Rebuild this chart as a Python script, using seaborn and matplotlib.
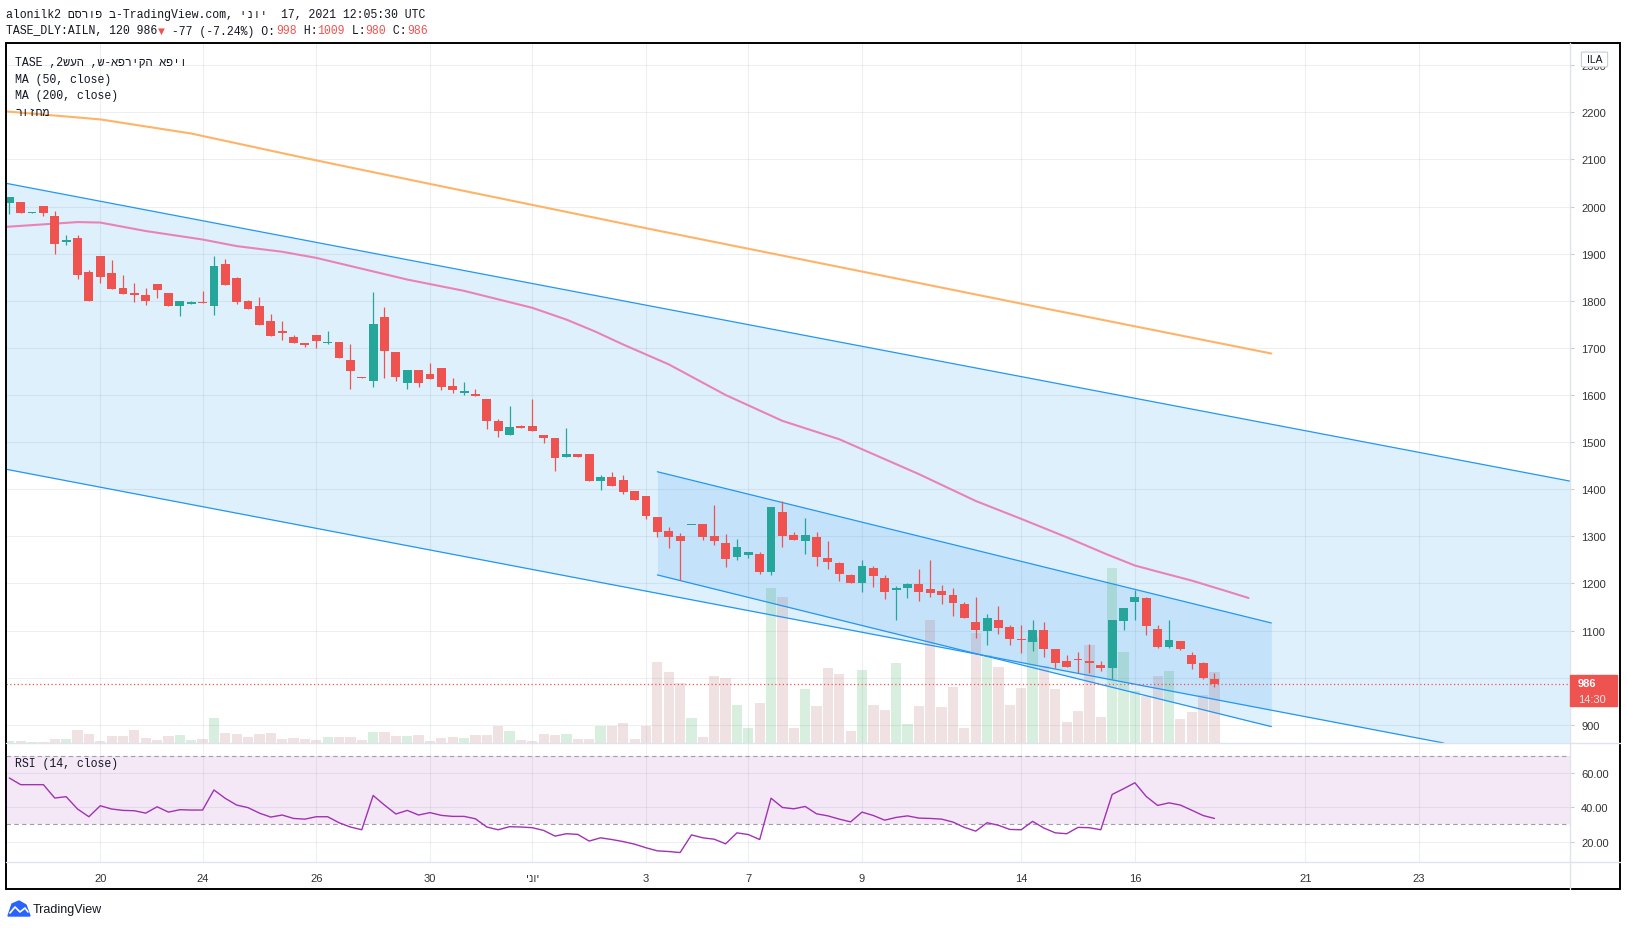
import matplotlib
matplotlib.use("Agg")
import numpy as np
import pandas as pd
import matplotlib.pyplot as plt
import seaborn as sns
from matplotlib.patches import Rectangle, FancyBboxPatch, Polygon

# ---- data: TASE_DLY:AILN, 120 min bars ----
bar_open = [2007, 2009, 1987, 2001, 1979, 1925, 1933, 1860, 1894, 1858,
            1828, 1816, 1813, 1835, 1816, 1789, 1793, 1797, 1789, 1879,
            1848, 1799, 1788, 1756, 1735, 1722, 1711, 1728, 1710, 1713,
            1675, 1639, 1629, 1765, 1692, 1625, 1654, 1645, 1658, 1618,
            1604, 1601, 1592, 1545, 1514, 1535, 1535, 1516, 1509, 1468,
            1475, 1475, 1418, 1426, 1419, 1396, 1385, 1341, 1311, 1301,
            1324, 1326, 1301, 1286, 1255, 1261, 1263, 1225, 1351, 1303,
            1291, 1299, 1254, 1244, 1218, 1200, 1233, 1212, 1185, 1191,
            1199, 1188, 1184, 1175, 1156, 1118, 1099, 1122, 1107, 1082,
            1076, 1101, 1060, 1035, 1040, 1035, 1027, 1021, 1121, 1161,
            1169, 1103, 1065, 1077, 1048, 1030, 998]
bar_high = [2020, 2009, 1988, 2001, 1990, 1939, 1939, 1865, 1894, 1886,
            1855, 1837, 1828, 1835, 1817, 1799, 1800, 1820, 1896, 1888,
            1850, 1801, 1807, 1771, 1758, 1728, 1711, 1728, 1735, 1713,
            1709, 1639, 1818, 1786, 1692, 1654, 1654, 1667, 1658, 1635,
            1628, 1613, 1592, 1548, 1577, 1537, 1592, 1516, 1509, 1530,
            1475, 1475, 1430, 1437, 1430, 1396, 1385, 1341, 1320, 1308,
            1325, 1326, 1366, 1305, 1294, 1267, 1267, 1362, 1375, 1309,
            1339, 1309, 1291, 1246, 1220, 1250, 1237, 1218, 1194, 1201,
            1231, 1250, 1197, 1190, 1160, 1171, 1135, 1152, 1111, 1111,
            1122, 1118, 1060, 1048, 1054, 1071, 1035, 1122, 1148, 1187,
            1171, 1111, 1122, 1077, 1054, 1033, 1009]
bar_low = [1984, 1987, 1986, 1980, 1899, 1918, 1846, 1799, 1838, 1825,
           1814, 1797, 1792, 1806, 1789, 1767, 1793, 1795, 1770, 1833,
           1793, 1782, 1748, 1725, 1716, 1710, 1701, 1699, 1708, 1678,
           1612, 1635, 1616, 1635, 1629, 1612, 1616, 1633, 1610, 1604,
           1599, 1597, 1528, 1510, 1514, 1529, 1523, 1499, 1438, 1468,
           1468, 1418, 1399, 1406, 1389, 1377, 1337, 1299, 1276, 1208,
           1324, 1293, 1282, 1234, 1249, 1253, 1221, 1217, 1278, 1293,
           1263, 1236, 1230, 1206, 1200, 1181, 1192, 1166, 1122, 1170,
           1162, 1172, 1156, 1130, 1126, 1084, 1069, 1093, 1070, 1052,
           1057, 1044, 1021, 1023, 1010, 1010, 1014, 997, 1101, 1123,
           1091, 1063, 1063, 1059, 1018, 997, 980]
bar_close = [2020, 1987, 1988, 1987, 1921, 1928, 1855, 1799, 1850, 1825,
             1814, 1812, 1799, 1823, 1789, 1799, 1798, 1795, 1873, 1833,
             1797, 1782, 1748, 1725, 1731, 1710, 1706, 1714, 1713, 1678,
             1650, 1635, 1750, 1693, 1638, 1654, 1625, 1633, 1616, 1610,
             1609, 1597, 1544, 1523, 1533, 1529, 1523, 1508, 1467, 1475,
             1468, 1418, 1426, 1406, 1394, 1377, 1344, 1310, 1299, 1289,
             1325, 1299, 1291, 1251, 1277, 1267, 1225, 1362, 1301, 1293,
             1303, 1257, 1246, 1221, 1200, 1237, 1215, 1181, 1191, 1199,
             1181, 1180, 1175, 1159, 1126, 1101, 1126, 1106, 1082, 1080,
             1101, 1061, 1031, 1023, 1038, 1031, 1021, 1122, 1148, 1171,
             1110, 1065, 1079, 1061, 1029, 999, 986]
volume = [6, 6, 3, 3, 12, 12, 39, 27, 6, 21,
          21, 39, 15, 9, 21, 24, 9, 12, 75, 30,
          27, 18, 27, 30, 12, 15, 12, 9, 18, 18,
          18, 9, 33, 33, 21, 21, 24, 6, 15, 18,
          15, 24, 24, 51, 36, 9, 6, 27, 24, 27,
          12, 12, 51, 51, 60, 12, 51, 243, 213, 180,
          75, 18, 201, 195, 114, 45, 120, 465, 438, 45,
          162, 111, 225, 207, 36, 219, 114, 99, 240, 57,
          111, 369, 108, 168, 45, 330, 264, 228, 114, 165,
          318, 231, 162, 63, 96, 294, 78, 525, 273, 156,
          141, 201, 216, 72, 93, 144, 213]
rsi = [57.1, 53.2, 53.2, 53.2, 45.4, 46.2, 39.0, 34.5, 40.9, 39.0,
       38.2, 38.0, 36.6, 40.3, 37.2, 38.6, 38.4, 38.4, 50.1, 45.2,
       41.3, 39.8, 36.6, 34.3, 35.5, 33.5, 33.1, 34.5, 34.5, 31.0,
       28.5, 26.9, 46.9, 41.3, 36.1, 38.2, 35.5, 36.9, 35.3, 34.7,
       34.7, 33.3, 28.5, 26.9, 28.7, 28.5, 28.1, 26.5, 23.2, 24.6,
       24.2, 20.3, 22.2, 21.2, 20.0, 18.5, 16.4, 14.6, 14.2, 13.6,
       23.9, 22.2, 21.4, 18.7, 25.1, 24.1, 21.2, 45.3, 39.9, 39.1,
       40.5, 36.2, 35.0, 33.1, 31.5, 37.2, 35.2, 32.5, 34.1, 35.0,
       33.7, 33.5, 33.1, 31.4, 28.3, 26.1, 31.0, 29.5, 27.1, 26.9,
       31.8, 27.9, 25.1, 24.6, 28.3, 28.1, 26.9, 47.5, 50.8, 54.3,
       46.3, 41.1, 42.6, 41.3, 38.3, 35.2, 33.5]
ma50_bar = [-0.2, 6, 8, 12, 17, 20, 24, 27, 35, 40, 46, 49, 51.5, 54, 58,
            63, 68, 73, 80, 85, 89, 93, 96.5, 99, 101, 104, 107, 109]
ma50_val = [1957, 1967, 1966, 1948, 1930, 1916, 1904, 1891, 1845, 1821, 1785,
            1760, 1735, 1707, 1665, 1600, 1545, 1506, 1432, 1375, 1337, 1298,
            1262, 1238, 1225, 1206, 1184, 1169]
ma200_bar = [-0.3, 8, 16, 26, 37, 56, 75, 90, 111]
ma200_val = [2202, 2185, 2155, 2103, 2048, 1954, 1862, 1789, 1688]
# parallel channels drawn on the chart: (bar, price) anchor points
big_upper = [(0, 2048), (137.3, 1417)]
big_width = 607
small_upper = [(57, 1437), (111, 1116)]
small_lower = [(57, 1218), (111, 896)]
last_price = 986
price_ticks = [900, 1000, 1100, 1200, 1300, 1400, 1500, 1600, 1700, 1800,
               1900, 2000, 2100, 2200, 2300]
rsi_ticks = [20, 40, 60]
date_bars = [8, 17, 27, 37, 46, 56, 65, 75, 89, 99, 114, 124]
date_labels = ['20', '24', '26', '30', 'יוני', '3', '7', '9', '14', '16', '21', '23']


def visual(s):
    # matplotlib has no bidi: flip each run of Hebrew letters
    out, run = [], []
    for ch in s:
        if '\u0590' <= ch <= '\u05ff':
            run.append(ch)
        else:
            out.extend(run[::-1]); run = []
            out.append(ch)
    out.extend(run[::-1])
    return ''.join(out)


W, H = 1627, 929
sns.set_style("white")
plt.rcParams['font.family'] = ['Liberation Sans', 'DejaVu Sans']
MONO = ['Liberation Mono', 'DejaVu Sans Mono', 'DejaVu Sans']
UP, DOWN = '#26a69a', '#ef5350'
GRID = (0.25, 0.35, 0.45, 0.09)
AXC = '#e0e3eb'
TXT = '#131722'

fig = plt.figure(figsize=(W / 100, H / 100), dpi=100)


def box(x0, y0, x1, y1):
    return [x0 / W, 1 - y1 / H, (x1 - x0) / W, (y1 - y0) / H]


X0, X1, TOP, MID, BOT = 6, 1570, 43.6, 744, 863
XLIM = (-0.29, 137.27)
ax_bg = fig.add_axes(box(X0, TOP, X1, MID))
ax_vol = fig.add_axes(box(X0, TOP, X1, MID), sharex=ax_bg)
ax = fig.add_axes(box(X0, TOP, X1, MID), sharex=ax_bg, sharey=ax_bg)
ax_rsi = fig.add_axes(box(X0, MID, X1, BOT), sharex=ax_bg)
for a in (ax_vol, ax):
    a.patch.set_alpha(0)

df = pd.DataFrame({'open': bar_open, 'high': bar_high, 'low': bar_low,
                   'close': bar_close, 'volume': volume, 'rsi': rsi})
df['bar'] = np.arange(len(df))
df['up'] = df['close'] >= df['open']

# background: channel fills and grid
ax_bg.set_xlim(*XLIM)
ax_bg.set_ylim(861.2, 2348)
slope = (big_upper[1][1] - big_upper[0][1]) / (big_upper[1][0] - big_upper[0][0])
xs = np.array(XLIM)
up_line = big_upper[0][1] + slope * (xs - big_upper[0][0])
ax_bg.fill_between(xs, up_line - big_width, up_line, color='#2196f3', alpha=0.14, lw=0, zorder=0.5)
ax_bg.fill_between([small_upper[0][0], small_upper[1][0]],
                   [small_lower[0][1], small_lower[1][1]],
                   [small_upper[0][1], small_upper[1][1]],
                   color='#2196f3', alpha=0.14, lw=0, zorder=0.6)
for p in price_ticks:
    ax_bg.axhline(p, color=GRID, lw=0.8, zorder=1)
for b in date_bars:
    ax_bg.axvline(b, color=GRID, lw=0.8, zorder=1)
ax_bg.yaxis.tick_right()
ax_bg.set_yticks(price_ticks)
ax_bg.tick_params(axis='y', length=3, width=0.8, color='#c8cbd3', pad=5,
                  labelsize=8, labelcolor='#333333')
ax_bg.tick_params(axis='x', bottom=False, labelbottom=False)

# volume
ax_vol.bar(df['bar'], df['volume'], width=0.9,
           color=np.where(df['up'], '#3caa5a', '#b46e73'), alpha=0.2, lw=0)
ax_vol.set_ylim(0, 2101)
ax_vol.axis('off')

# channel lines, moving averages, candles
ax.axline(big_upper[0], big_upper[1], color='#2196f3', lw=0.9)
ax.axline((big_upper[0][0], big_upper[0][1] - big_width),
          (big_upper[1][0], big_upper[1][1] - big_width), color='#2196f3', lw=0.9)
ax.plot([small_upper[0][0], small_upper[1][0]], [small_upper[0][1], small_upper[1][1]],
        color='#2196f3', lw=0.9)
ax.plot([small_lower[0][0], small_lower[1][0]], [small_lower[0][1], small_lower[1][1]],
        color='#2196f3', lw=0.9)
sns.lineplot(x=ma200_bar, y=ma200_val, ax=ax, color='#ffb366', lw=1.5)
sns.lineplot(x=ma50_bar, y=ma50_val, ax=ax, color='#e983b5', lw=1.5)
ccol = np.where(df['up'], UP, DOWN)
ax.vlines(df['bar'], df['low'], df['high'], colors=ccol, lw=0.9, zorder=3)
body_lo = np.minimum(df['open'], df['close'])
body_h = np.maximum((df['close'] - df['open']).abs(), 2.2)
ax.bar(df['bar'], body_h, bottom=body_lo, width=0.78, color=ccol, lw=0, zorder=4)
ax.axhline(last_price, color=DOWN, lw=0.9, ls=(0, (1, 2)), zorder=2)
ax.set_xlim(*XLIM)
ax.axis('off')

# RSI pane
ax_rsi.set_ylim(8.1, 77.5)
ax_rsi.axhspan(30, 70, color='#9c27b0', alpha=0.1, lw=0)
for v in (30, 70):
    ax_rsi.axhline(v, color='#a59bb0', lw=0.8, ls=(0, (4, 3)))
for v in rsi_ticks:
    ax_rsi.axhline(v, color=GRID, lw=0.8)
for b in date_bars:
    ax_rsi.axvline(b, color=GRID, lw=0.8)
sns.lineplot(data=df, x='bar', y='rsi', ax=ax_rsi, color='#a032b4', lw=1.0)
ax_rsi.yaxis.tick_right()
ax_rsi.set_yticks(rsi_ticks)
ax_rsi.set_yticklabels([f'{v:.2f}' for v in rsi_ticks])
ax_rsi.set_xticks(date_bars)
ax_rsi.set_xticklabels([visual(s) for s in date_labels])
ax_rsi.tick_params(axis='y', length=3, width=0.8, color='#c8cbd3', pad=5,
                   labelsize=8, labelcolor='#333333')
ax_rsi.tick_params(axis='x', length=0, pad=8, labelsize=8, labelcolor='#333333')
ax_rsi.set_xlabel('')
ax_rsi.set_ylabel('')
ax_rsi.set_xlim(*XLIM)
for a in (ax_bg, ax_rsi):
    for s in a.spines.values():
        s.set_visible(False)


# frame and separators (figure pixels)
def hline(y, x0, x1, c, lw):
    fig.add_artist(plt.Line2D([x0 / W, x1 / W], [1 - y / H, 1 - y / H], color=c, lw=lw))


def vline(x, y0, y1, c, lw):
    fig.add_artist(plt.Line2D([x / W, x / W], [1 - y0 / H, 1 - y1 / H], color=c, lw=lw))


hline(MID, X0, 1620, AXC, 1.0)
hline(BOT, X0, 1620, AXC, 1.0)
vline(X1, TOP, 890, AXC, 1.0)
fig.add_artist(Rectangle((X0 / W, 1 - 890 / H), (1620 - X0) / W, (890 - TOP) / H,
                         fill=False, ec='#000000', lw=1.4))

# price marker and currency tag on the price scale
fig.add_artist(Rectangle((X1 / W, 1 - 707 / H), 47 / W, 31 / H, color=DOWN, zorder=5))
fig.text(1578 / W, 1 - 684.5 / H, str(last_price), color='white', fontsize=8,
         fontweight='bold', va='center', zorder=6)
fig.text(1578 / W, 1 - 700 / H, '14:30', color='#fde2e2', fontsize=8, va='center', zorder=6)
fig.add_artist(FancyBboxPatch((1583 / W, 1 - 67 / H), 23 / W, 13 / H,
                              boxstyle='round,pad=0.001', fc='white', ec='#c8cbd3', lw=0.8, zorder=5))
fig.text(1594.5 / W, 1 - 60 / H, 'ILA', fontsize=7.5, color=TXT, ha='center', va='center', zorder=6)

# header lines (monospace, coloured runs)
FS = 8.3
CW = 0.6 * FS * 100 / 72


def runs(x, y, parts):
    n = 0
    for s, c in parts:
        fig.text((x + n * CW) / W, 1 - y / H, s, color=c, fontsize=FS, family=MONO, va='center')
        n += len(s)


runs(6, 15, [(visual('alonilk2 פורסם ב-TradingView.com, יוני  17, 2021 12:05:30 UTC'), TXT)])
runs(6, 31.5, [('TASE_DLY:AILN, 120 986', TXT), ('▼', DOWN), (' -77 (-7.24%) O:', TXT),
               ('998', DOWN), (' H:', TXT), ('1009', DOWN), (' L:', TXT), ('980', DOWN),
               (' C:', TXT), ('986', DOWN)])
legend_lines = ['TASE ,2שעה ,ש-אפריקה אפיו', 'MA (50, close)', 'MA (200, close)', 'רוזחמ']
for i, s in enumerate(legend_lines):
    runs(15, 62.5 + i * 17, [(s, TXT)])
runs(15, 764, [('RSI (14, close)', TXT)])

# TradingView logo
fig.add_artist(Polygon([(8 / W, 1 - 917 / H), (12 / W, 1 - 905 / H), (19 / W, 1 - 902 / H),
                        (26 / W, 1 - 906 / H), (30 / W, 1 - 917 / H)],
                       closed=True, color='#2962ff'))
fig.add_artist(plt.Line2D([10 / W, 15 / W, 20 / W, 25 / W, 28 / W],
                          [1 - 914 / H, 1 - 908 / H, 1 - 913 / H, 1 - 909 / H, 1 - 913 / H],
                          color='white', lw=1.2))
fig.text(33 / W, 1 - 910 / H, 'TradingView', fontsize=9, color=TXT, va='center')

fig.savefig('out.png', dpi=100)
